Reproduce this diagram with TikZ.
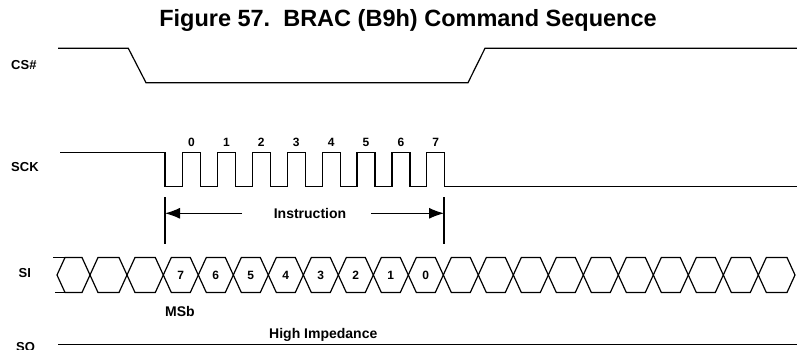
\documentclass[tikz,border=0pt]{standalone}
\usepackage{fontspec}
\setmainfont{Liberation Sans}
\usetikzlibrary{arrows.meta, positioning}
\tikzstyle{wave}=[line width=1.2pt, line join=miter]
\tikzstyle{sig}=[font=\fontsize{13}{15}\selectfont\bfseries, anchor=base west, inner sep=0pt]
\tikzstyle{bit}=[font=\fontsize{12}{14}\selectfont\bfseries, inner sep=0pt]
\tikzstyle{note}=[font=\fontsize{14}{16}\selectfont\bfseries, inner sep=0pt]

\begin{document}
\begin{tikzpicture}[x=1pt,y=-1pt,>={Latex[length=15pt,width=11pt]}]
    \useasboundingbox (0,0) rectangle (797,350);
    \node[anchor=base, inner sep=0pt, font=\fontsize{23.5}{26}\selectfont\bfseries] (title) at (408,27) {Figure 57.~~BRAC (B9h) Command Sequence};
    % signal names
    \node[sig] (cs) at (11,70) {CS\#};
    \node[sig] (sck) at (11,171.7) {SCK};
    \node[sig] (si) at (18.5,277.7) {SI};
    \node[sig] (so) at (16,351) {SO};
    % CS#
    \draw[wave] (58,48.3) -- (128.3,48.3) -- (146,82.7) -- (468,82.7) -- (485,48.3) -- (797,48.3);
    % SCK
    \draw[wave] (60,152.3) -- (165,152.3) -- (165,186.7)
        \foreach \k in {0,...,7} { -- ({182.5+34.9*\k},186.7) -- ++(0,-34.4) -- ++(18,0) -- ++(0,34.4) }
        -- (797,186.7);
    \foreach \k in {0,...,7}
        \node[bit] (clk\k) at ({191.5+34.9*\k},142.7) {\k};
    % instruction
    \coordinate (mkLtop) at (165,197.3);
    \coordinate (mkLbot) at (165,244);
    \coordinate (mkRtop) at (444,197.3);
    \coordinate (mkRbot) at (444,244);
    \node[note] (instr) at (310,213.3) {Instruction};
    \coordinate (arL) at (242,213.3);
    \coordinate (arR) at (371,213.3);
    \draw[line width=1.1pt] (mkLtop) -- (mkLbot);
    \draw[line width=1.1pt] (mkRtop) -- (mkRbot);
    \draw[->, line width=1.1pt] (arL) -- (mkLtop |- arL);
    \draw[->, line width=1.1pt] (arR) -- (mkRtop |- arR);
    % SI
    \draw[wave] (53,257.5) -- (65,257.5);
    \draw[wave] (55,292.5) -- (65,292.5);
    \foreach \a/\b in {57/90, 90/127, 127/163.3, 758.3/795}
        \draw[wave] (\a,275) -- ({\a+8},257.5) -- ({\b-8},257.5) -- (\b,275) -- ({\b-8},292.5) -- ({\a+8},292.5) -- cycle;
    \foreach \k in {0,...,16} {
        \pgfmathsetmacro{\a}{163.3+35*\k}
        \pgfmathsetmacro{\b}{\a+35}
        \draw[wave] (\a,275) -- ({\a+8},257.5) -- ({\b-8},257.5) -- (\b,275) -- ({\b-8},292.5) -- ({\a+8},292.5) -- cycle;
    }
    \foreach \d [count=\k from 0] in {7,6,5,4,3,2,1,0}
        \node[bit] (bit\d) at ({180.8+35*\k},275) {\d};
    \node[note, anchor=base west] (msb) at (165,316) {MSb};
    % SO
    \draw[wave] (58.3,344.3) -- (797,344.3);
    \node[note, anchor=base] (hiz) at (323.3,338.3) {High Impedance};
\end{tikzpicture}
\end{document}
